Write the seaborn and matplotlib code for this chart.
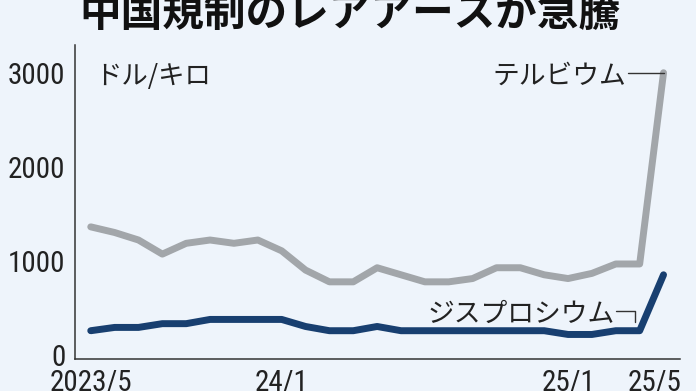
import numpy as np
import pandas as pd
import matplotlib
matplotlib.use("Agg")
import matplotlib.pyplot as plt
from matplotlib import font_manager
import matplotlib.transforms as mtransforms
import seaborn as sns

# ---- data (monthly, 2023/5 .. 2025/5) ----
months = list(range(25))
terbium = [1360, 1300, 1220, 1070, 1185, 1220, 1185, 1220, 1105, 900, 775, 775,
           925, 850, 775, 775, 810, 925, 925, 850, 810, 865, 965, 965, 3000]
dysprosium = [255, 290, 290, 330, 330, 375, 375, 375, 375, 300, 255, 255,
              300, 255, 255, 255, 255, 255, 255, 255, 215, 215, 255, 255, 850]
series_names = ["テルビウム", "ジスプロシウム"]
tick_pos = [0, 8, 20, 24]
tick_labels = ["2023/5", "24/1", "25/1", "25/5"]
ytick_vals = [0, 1000, 2000, 3000]
title = "中国規制のレアアースが急騰"
unit = "ドル/キロ"

df = pd.concat([
    pd.DataFrame({"month": months, "price": terbium, "element": series_names[0]}),
    pd.DataFrame({"month": months, "price": dysprosium, "element": series_names[1]}),
])

BG = "#EEF4FB"
GRAY = "#A2A6AA"
NAVY = "#183F70"
JP = ["Noto Sans CJK JP", "DejaVu Sans"]

# find a condensed font for the numeric tick labels
def find_narrow():
    cands = []
    for f in font_manager.fontManager.ttflist:
        name = f.name.lower()
        fn = f.fname.lower()
        st = str(f.stretch).lower()
        narrow = ("narrow" in name or "condensed" in name or "narrow" in fn
                  or "condensed" in fn or st in ("condensed", "semi-condensed",
                                                 "extra-condensed", "500", "600", "700")
                  )
        if narrow and f.weight in (400, "normal", "regular") and f.style == "normal":
            score = 0
            if "liberation" in fn: score = 3
            elif "roboto" in fn: score = 2
            elif "dejavusans" in fn: score = 1
            cands.append((score, f.fname))
    if cands:
        cands.sort(reverse=True)
        return font_manager.FontProperties(fname=cands[0][1])
    return None

narrow_fp = find_narrow()

sns.set_theme(style="white")
plt.rcParams["font.family"] = JP

fig = plt.figure(figsize=(6.96, 3.91), dpi=100, facecolor=BG)
ax = fig.add_axes([75/696, 1-359/391, (680-75)/696, (359-45)/391])
ax.set_facecolor(BG)

sns.lineplot(data=df, x="month", y="price", hue="element",
             palette={series_names[0]: GRAY, series_names[1]: NAVY},
             linewidth=5, legend=False, ax=ax, solid_capstyle="round",
             solid_joinstyle="round")

ax.set_xlim(-0.66, 24.69)
ax.set_ylim(-46, 3295)
ax.set_xticks(tick_pos)
ax.set_xticklabels(tick_labels)
ax.set_yticks(ytick_vals)
ax.set_yticklabels([str(v) for v in ytick_vals])
ax.set_xlabel("")
ax.set_ylabel("")

for s in ["top", "right"]:
    ax.spines[s].set_visible(False)
for s in ["left", "bottom"]:
    ax.spines[s].set_color("#333333")
    ax.spines[s].set_linewidth(1.1)

ax.tick_params(axis="both", direction="in", length=5, width=1, color="#333333",
               labelcolor="#222222")
ax.tick_params(axis="x", pad=7)
ax.tick_params(axis="y", pad=7)
for lab in ax.get_xticklabels() + ax.get_yticklabels():
    if narrow_fp is not None:
        lab.set_fontproperties(narrow_fp)
        lab.set_fontsize(21)
    else:
        lab.set_fontfamily(["Liberation Sans", "DejaVu Sans"])
        lab.set_fontsize(18)

# last x label sits slightly left of its tick in the reference
last = ax.get_xticklabels()[-1]
last.set_transform(last.get_transform() +
                   mtransforms.ScaledTranslation(-9/100, 0, fig.dpi_scale_trans))

# unit label
ax.text(0.2, 2955, unit, fontsize=19, color="#222222", va="center", ha="left")

# series labels with leader lines
ax.text(22.45, 2960, series_names[0], fontsize=19.3, color="#222222", va="center",
        ha="right")
ax.plot([22.5, 24], [terbium[-1], terbium[-1]], color="#333333", lw=1)

ax.text(21.95, 425, series_names[1], fontsize=19.3, color="#222222", va="center",
        ha="right")
ax.plot([22.0, 22.8, 22.8], [470, 470, 345], color="#333333", lw=1)

# title (partially cut at top as in reference)
fig.text(350/696, 1-13.5/391, title, fontsize=30, fontweight="bold",
         ha="center", va="center", color="#111111")

fig.savefig("out.png", dpi=100, facecolor=BG)
